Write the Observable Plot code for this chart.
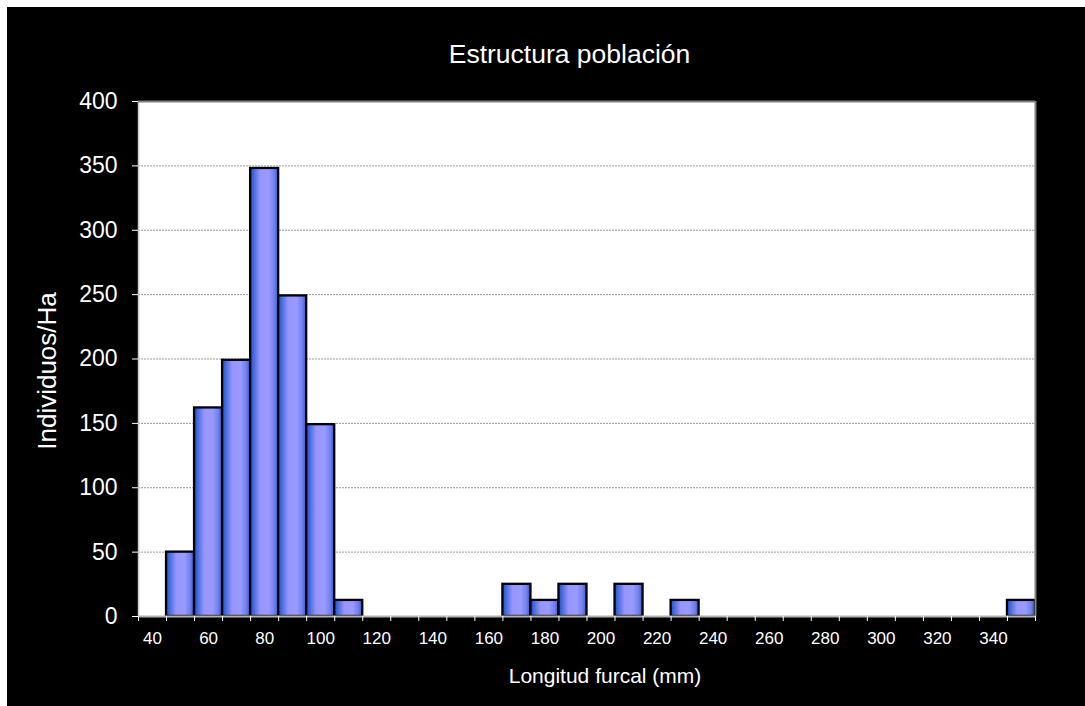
<!DOCTYPE html>
<html>
<head>
<meta charset="utf-8">
<script src="https://cdn.jsdelivr.net/npm/d3@7"></script>
<script src="https://cdn.jsdelivr.net/npm/@observablehq/plot@0.6"></script>
<style>
  html, body { margin: 0; padding: 0; background: #ffffff; }
  #chart {
    position: absolute; left: 7px; top: 7px; width: 1078px; height: 699px;
    background: #000000; overflow: hidden;
    font-family: "Liberation Sans", Arial, sans-serif;
  }
  #title {
    height: 80px; line-height: 1; color: #ffffff; font-size: 26.5px;
    text-align: center; padding-left: 47px; box-sizing: border-box; padding-top: 34px;
  }
</style>
</head>
<body>
<div id="chart">
  <div id="title">Estructura población</div>
</div>
<script>
// Bin centres (mm) and individuals per hectare
const bins = [40,50,60,70,80,90,100,110,120,130,140,150,160,170,180,190,200,210,220,230,240,250,260,270,280,290,300,310,320,330,340,350];
const counts = [0,50,162,199,348,249,149,12.5,0,0,0,0,0,25,12.5,25,0,25,0,12.5,0,0,0,0,0,0,0,0,0,0,0,12.5];
const binEdges = [35,45,55,65,75,85,95,105,115,125,135,145,155,165,175,185,195,205,215,225,235,245,255,265,275,285,295,305,315,325,335,345,355];
const xLabels = [40,60,80,100,120,140,160,180,200,220,240,260,280,300,320,340];
const yTicks = [0,50,100,150,200,250,300,350,400];
const gridTicks = [50,100,150,200,250,300,350];
const binWidth = 10;

const data = bins.map((b, i) => ({bin: b, value: counts[i]})).filter(d => d.value > 0);

const plot = Plot.plot({
  width: 1078,
  height: 612,
  marginLeft: 131,
  marginRight: 50,
  marginTop: 14,
  marginBottom: 83,
  style: {background: "#000000", color: "#ffffff", fontFamily: "'Liberation Sans', Arial, sans-serif"},
  x: {domain: [binEdges[0], binEdges[binEdges.length - 1]]},
  y: {domain: [0, 400]},
  marks: [
    Plot.frame({fill: "#ffffff", stroke: "none"}),
    Plot.gridY(gridTicks, {stroke: "#9a9a9a", strokeOpacity: 1, strokeDasharray: "2,1", strokeWidth: 1}),
    Plot.rectY(data, {
      x1: d => d.bin - binWidth / 2,
      x2: d => d.bin + binWidth / 2,
      y: "value",
      fill: "url(#barGrad)",
      stroke: "#000000",
      strokeWidth: 2.3
    }),
    Plot.ruleX([binEdges[0]], {stroke: "#c8c8c8", strokeWidth: 1.5}),
    Plot.ruleY([400], {stroke: "#808080", strokeWidth: 2}),
    Plot.ruleX([binEdges[binEdges.length - 1]], {stroke: "#808080", strokeWidth: 2}),
    Plot.ruleY([0], {stroke: "#b4b4b4", strokeWidth: 2}),
    Plot.axisY(yTicks, {tickSize: 6, tickPadding: 15, stroke: "#ffffff", fill: "#ffffff", fontSize: 23, label: null}),
    Plot.axisX(binEdges, {tickSize: 5, text: null, stroke: "#ffffff", label: null}),
    Plot.axisX(xLabels, {tickSize: 0, tickPadding: 15, fill: "#ffffff", fontSize: 17, label: null}),
    Plot.text(["Individuos/Ha"], {frameAnchor: "left", dx: -91, dy: 12, rotate: -90, fill: "#ffffff", fontSize: 26, textAnchor: "middle", lineAnchor: "middle"}),
    Plot.text(["Longitud furcal (mm)"], {frameAnchor: "bottom", dx: 18, dy: 60, fill: "#ffffff", fontSize: 21, textAnchor: "middle", lineAnchor: "middle"})
  ]
});

// gradient definition for the bars
const svgNS = "http://www.w3.org/2000/svg";
const defs = document.createElementNS(svgNS, "defs");
const grad = document.createElementNS(svgNS, "linearGradient");
grad.setAttribute("id", "barGrad");
grad.setAttribute("x1", "0"); grad.setAttribute("x2", "1");
grad.setAttribute("y1", "0"); grad.setAttribute("y2", "0");
[["0", "#1d4ccc"], ["0.12", "#4368dc"], ["0.36", "#9696fd"], ["0.66", "#9999ff"], ["0.86", "#6f82ec"], ["1", "#2d57d4"]].forEach(([o, c]) => {
  const s = document.createElementNS(svgNS, "stop");
  s.setAttribute("offset", o); s.setAttribute("stop-color", c);
  grad.appendChild(s);
});
defs.appendChild(grad);
plot.insertBefore(defs, plot.firstChild);
plot.style.display = "block";
document.getElementById("chart").appendChild(plot);
</script>
</body>
</html>
